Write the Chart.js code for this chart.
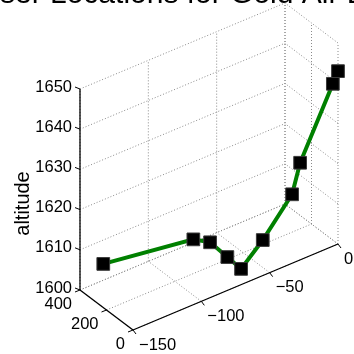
<!DOCTYPE html>
<html><head><meta charset="utf-8">
<script src="https://cdn.jsdelivr.net/npm/chart.js@4"></script>
<style>html,body{margin:0;padding:0;background:#fff;overflow:hidden}#wrap{width:354px;height:354px;position:relative}</style>
</head><body><div id="wrap"><canvas id="c" width="354" height="354"></canvas></div>
<script>
const titleText = 'Laser Locations for Gold Air Drop';
const zLabel = 'altitude';
const xTicks = [-150, -100, -50, 0];
const yTicks = [0, 200, 400];
const zTicks = [1600, 1610, 1620, 1630, 1640, 1650];
const xVals = [-144.6, -94.2, -83.9, -73.2, -65.1, -50.2, -29.7, -24.8, -2.8, 0];
const yVals = [280, 120, 100, 80, 60, 50, 40, 30, 10, 0];
const zVals = [1608.7, 1611.6, 1609.9, 1605.2, 1601.6, 1606.9, 1615.6, 1623.0, 1640.0, 1643.0];

const xLim = [-150, 0], yLim = [0, 400], zLim = [1600, 1650];
const view = { origin: [133, 330], ex: [205, -86], ey: [-53, -40], ez: [0, -201] };
function project(x, y, z) {
  const u = (x - xLim[0]) / (xLim[1] - xLim[0]);
  const v = (y - yLim[0]) / (yLim[1] - yLim[0]);
  const w = (z - zLim[0]) / (zLim[1] - zLim[0]);
  return { x: view.origin[0] + u * view.ex[0] + v * view.ey[0] + w * view.ez[0],
           y: view.origin[1] + u * view.ex[1] + v * view.ey[1] + w * view.ez[1] };
}
const pts = xVals.map((x, i) => project(x, yVals[i], zVals[i]));
const FONT = '"Liberation Sans", Arial, Helvetica, sans-serif';
const fmt = v => (v < 0 ? '\u2212' + Math.abs(v) : String(v));

const axes3d = {
  id: 'axes3d',
  beforeDatasetsDraw(chart) {
    const ctx = chart.ctx, sx = chart.scales.x, sy = chart.scales.y;
    const P = (x, y, z) => { const p = project(x, y, z); return [sx.getPixelForValue(p.x), sy.getPixelForValue(p.y)]; };
    const seg = (a, b) => { ctx.beginPath(); ctx.moveTo(a[0], a[1]); ctx.lineTo(b[0], b[1]); ctx.stroke(); };
    ctx.save();
    // grid
    ctx.strokeStyle = '#8a8a8a'; ctx.lineWidth = 1; ctx.setLineDash([1, 2]);
    xTicks.forEach(x => { seg(P(x, yLim[1], zLim[0]), P(x, yLim[1], zLim[1])); seg(P(x, yLim[0], zLim[0]), P(x, yLim[1], zLim[0])); });
    yTicks.forEach(y => { seg(P(xLim[1], y, zLim[0]), P(xLim[1], y, zLim[1])); seg(P(xLim[0], y, zLim[0]), P(xLim[1], y, zLim[0])); });
    zTicks.forEach(z => { seg(P(xLim[0], yLim[1], z), P(xLim[1], yLim[1], z)); seg(P(xLim[1], yLim[0], z), P(xLim[1], yLim[1], z)); });
    ctx.setLineDash([]);
    // axis lines
    ctx.strokeStyle = '#000'; ctx.lineWidth = 1.3;
    seg(P(xLim[0], yLim[1], zLim[0]), P(xLim[0], yLim[1], zLim[1]));
    seg(P(xLim[0], yLim[0], zLim[0]), P(xLim[0], yLim[1], zLim[0]));
    seg(P(xLim[0], yLim[0], zLim[0]), P(xLim[1], yLim[0], zLim[0]));
    // ticks + labels
    ctx.fillStyle = '#000'; ctx.font = '16.5px ' + FONT;
    ctx.lineWidth = 1;
    zTicks.forEach(z => { const a = P(xLim[0], yLim[1], z); seg(a, [a[0] - 5, a[1] - 2]);
      ctx.textAlign = 'right'; ctx.textBaseline = 'middle'; ctx.fillText(fmt(z), a[0] - 8, a[1] - 2); });
    yTicks.forEach(y => { const a = P(xLim[0], y, zLim[0]); seg(a, [a[0] - 5, a[1] + 2]);
      ctx.textAlign = 'right'; ctx.textBaseline = 'middle'; ctx.fillText(fmt(y), a[0] - 8, a[1] + 14); });
    xTicks.forEach(x => { const a = P(x, yLim[0], zLim[0]); seg(a, [a[0] + 3, a[1] + 4]);
      ctx.textAlign = 'left'; ctx.textBaseline = 'middle'; ctx.fillText(fmt(x), a[0] + 6, a[1] + 15); });
    // z label
    const zc = P(xLim[0], yLim[1], (zLim[0] + zLim[1]) / 2);
    ctx.save(); ctx.translate(23, zc[1] + 14); ctx.rotate(-Math.PI / 2);
    ctx.font = '20px ' + FONT; ctx.textAlign = 'center'; ctx.textBaseline = 'middle';
    ctx.fillText(zLabel, 0, 0); ctx.restore();
    // title (clipped at top in the original)
    ctx.font = '30px ' + FONT; ctx.textAlign = 'left'; ctx.textBaseline = 'alphabetic';
    const lead = ctx.measureText('Laser ').width;
    ctx.fillText(titleText, 50 - lead, 3);
    ctx.restore();
  }
};

new Chart(document.getElementById('c'), {
  type: 'scatter',
  data: { datasets: [{
    data: pts, showLine: true, borderColor: '#008000', borderWidth: 4,
    pointStyle: 'rect', pointRadius: 9, pointHoverRadius: 9,
    pointBackgroundColor: '#000', pointBorderColor: '#3a3a3a', pointBorderWidth: 1, clip: false
  }] },
  options: {
    responsive: false, animation: false, events: [],
    layout: { padding: 0, autoPadding: false },
    plugins: { legend: { display: false }, tooltip: { enabled: false }, title: { display: false } },
    scales: {
      x: { type: 'linear', min: 0, max: 354, display: false },
      y: { type: 'linear', min: 0, max: 354, reverse: true, display: false }
    }
  },
  plugins: [axes3d]
});
</script>
</body></html>
